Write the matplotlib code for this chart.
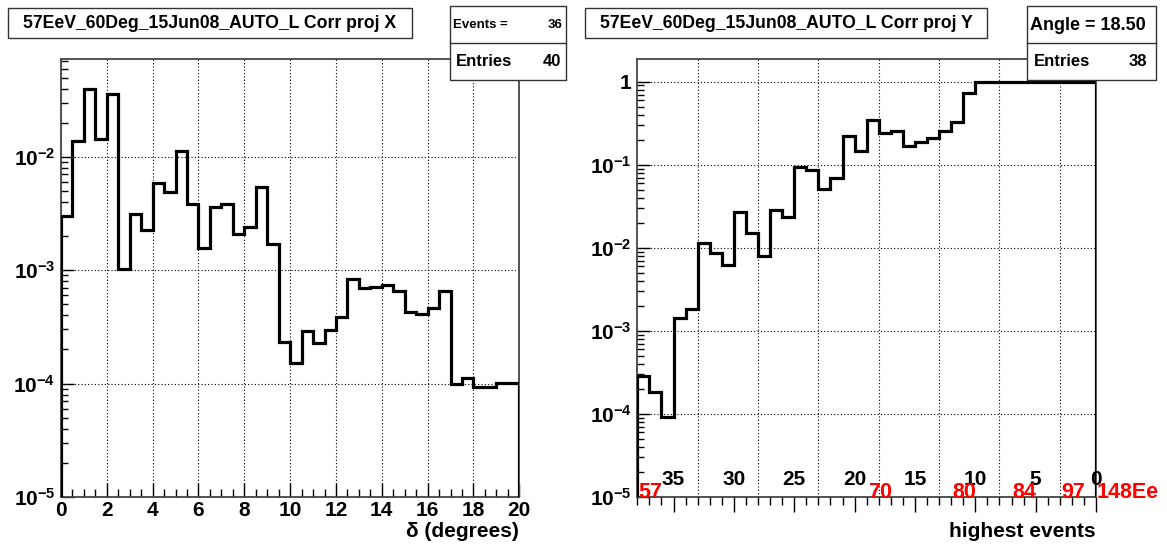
import numpy as np
import matplotlib
matplotlib.use("Agg")
import matplotlib.pyplot as plt
import matplotlib.transforms as mtransforms
from matplotlib.patches import Rectangle

plt.rcParams['font.family'] = ['Liberation Sans', 'DejaVu Sans']
plt.rcParams['font.weight'] = 'bold'
plt.rcParams['axes.unicode_minus'] = False

# projection on delta: 40 bins of 0.5 degree
delta_edges = np.linspace(0, 20, 41)
proj_x = [3.0e-3, 1.39e-2, 3.96e-2, 1.44e-2, 3.57e-2, 1.03e-3, 3.14e-3, 2.28e-3,
          5.9e-3, 4.87e-3, 1.12e-2, 3.85e-3, 1.56e-3, 3.62e-3, 3.87e-3, 2.1e-3,
          2.42e-3, 5.4e-3, 1.71e-3, 2.35e-4, 1.51e-4, 2.9e-4, 2.27e-4, 2.98e-4,
          3.9e-4, 8.4e-4, 6.9e-4, 7.1e-4, 7.4e-4, 6.5e-4, 4.3e-4, 4.1e-4,
          4.6e-4, 6.6e-4, 1.0e-4, 1.12e-4, 9.3e-5, 9.3e-5, 1.02e-4, 1.02e-4]

# projection on the number of highest events: 38 bins
n_events = 38
count_edges = np.arange(0, n_events + 1)
proj_y = [2.88e-4, 1.86e-4, 9.2e-5, 1.43e-3, 1.81e-3, 1.154e-2, 8.74e-3, 6.26e-3,
          2.69e-2, 1.497e-2, 8.04e-3, 2.87e-2, 2.36e-2, 9.48e-2, 8.65e-2, 5.1e-2,
          6.92e-2, 0.2246, 0.148, 0.344, 0.242, 0.258, 0.167, 0.187,
          0.210, 0.258, 0.326, 0.723, 1.0, 1.0, 1.0, 1.0,
          1.0, 1.0, 1.0, 1.0, 1.0, 1.0]

count_labels = ['35', '30', '25', '20', '15', '10', '5', '0']
energy_labels = ['57', '70', '80', '84', '97', '148Ee']
energy_bins = [0, 19, 26, 31, 35, 38]

title_x = '57EeV_60Deg_15Jun08_AUTO_L Corr proj X'
title_y = '57EeV_60Deg_15Jun08_AUTO_L Corr proj Y'

W, H = 1167, 544
fig = plt.figure(figsize=(W / 100, H / 100), dpi=100)


def box(x0, y0, x1, y1):
    r = Rectangle((x0 / W, 1 - y1 / H), (x1 - x0) / W, (y1 - y0) / H,
                  transform=fig.transFigure, facecolor='white',
                  edgecolor='#333333', lw=1.0, zorder=10)
    fig.add_artist(r)


def hline(x0, x1, y):
    fig.add_artist(plt.Line2D([x0 / W, x1 / W], [1 - y / H, 1 - y / H],
                              transform=fig.transFigure, color='#333333',
                              lw=1.0, zorder=11))


def ftext(px, py, s, **kw):
    fig.text(px / W, 1 - py / H, s, zorder=12, **kw)


def pow_label(v):
    if v == 1:
        return '1'
    return r'$\mathdefault{10^{%d}}$' % int(round(np.log10(v)))


ax1 = fig.add_axes([61 / W, 1 - 497 / H, (519.3 - 61) / W, (497 - 59.3) / H])
ax2 = fig.add_axes([637.3 / W, 1 - 497 / H, (1096 - 637.3) / W, (497 - 59.3) / H])

for ax in (ax1, ax2):
    for sp in ax.spines.values():
        sp.set_color('#444444')
        sp.set_linewidth(1.3)
    ax.set_yscale('log')
    ax.tick_params(axis='y', which='major', direction='in', length=9, width=1,
                   labelsize=15, pad=4, right=False)
    ax.tick_params(axis='y', which='minor', direction='in', length=5, width=1,
                   right=False)
    ax.grid(True, axis='y', which='major', ls=(0, (1, 2)), color='k', lw=0.8)
    ax.set_axisbelow(True)

# left: delta projection
ax1.stairs(proj_x, delta_edges, baseline=1e-5, color='k', lw=2.3, zorder=3)
ax1.set_xlim(0, 20)
ax1.set_ylim(1e-5, 0.0724)
ax1.set_xticks(np.arange(0, 21, 2))
ax1.set_xticks(np.arange(0, 20.01, 0.5), minor=True)
ax1.tick_params(axis='x', which='major', direction='in', length=10, width=1,
                labelsize=15, pad=3, top=False)
ax1.tick_params(axis='x', which='minor', direction='in', length=5.5, width=1,
                top=False)
ax1.grid(True, axis='x', which='major', ls=(0, (1, 2)), color='k', lw=0.8)
yt1 = [1e-5, 1e-4, 1e-3, 1e-2]
ax1.set_yticks(yt1)
ax1.set_yticklabels([pow_label(v) for v in yt1])

# right: projection on number of events
ax2.stairs(proj_y, count_edges, baseline=1e-5, color='k', lw=2.3, zorder=3)
ax2.set_xlim(0, n_events)
ax2.set_ylim(1e-5, 1.86)
ax2.set_xticks([n_events - int(c) for c in count_labels])
ax2.set_xticklabels([])
ax2.set_xticks(count_edges, minor=True)
ax2.tick_params(axis='x', which='major', direction='out', length=10.5, width=1,
                top=False)
ax2.tick_params(axis='x', which='minor', direction='out', length=5.5, width=1,
                top=False)
for gx in range(5, n_events, 5):
    ax2.axvline(gx, ls=(0, (1, 2)), color='k', lw=0.8, zorder=1)
yt2 = [1e-5, 1e-4, 1e-3, 1e-2, 1e-1, 1]
ax2.set_yticks(yt2)
ax2.set_yticklabels([pow_label(v) for v in yt2])

trans2 = mtransforms.blended_transform_factory(ax2.transData, ax2.transAxes)
for c in count_labels:
    ax2.text(n_events - int(c), 0.019, c, transform=trans2, ha='center',
             va='bottom', fontsize=15, color='k', zorder=5)
shift = mtransforms.ScaledTranslation(1.0 / 100, 0, fig.dpi_scale_trans)
for lbl, b in zip(energy_labels, energy_bins):
    ax2.text(b, -0.002, lbl, transform=trans2 + shift, ha='left',
             va='baseline', fontsize=15.5, color='red', zorder=5, clip_on=False)

# axis titles
ftext(519.3, 541, 'δ (degrees)', ha='right', va='bottom', fontsize=15)
ftext(1096, 541, 'highest events', ha='right', va='bottom', fontsize=15)

# title boxes
box(8.3, 8.3, 411.7, 38.3)
ftext(210, 23.5, title_x, ha='center', va='center', fontsize=12.7)
box(585, 8.3, 987.3, 38.3)
ftext(786, 23.5, title_y, ha='center', va='center', fontsize=12.7)

# stats boxes
box(450, 6, 566, 80)
hline(450, 566, 43.3)
ftext(453, 25, 'Events =', ha='left', va='center', fontsize=9.5)
ftext(563, 25, '36', ha='right', va='center', fontsize=9.5)
ftext(456, 62, 'Entries', ha='left', va='center', fontsize=12)
ftext(561, 62, '40', ha='right', va='center', fontsize=12)

box(1027, 6, 1156, 80)
hline(1027, 1156, 43.3)
ftext(1030, 25, 'Angle = 18.50', ha='left', va='center', fontsize=13)
ftext(1034, 62, 'Entries', ha='left', va='center', fontsize=12)
ftext(1147, 62, '38', ha='right', va='center', fontsize=12)

fig.savefig('out.png', dpi=100)
